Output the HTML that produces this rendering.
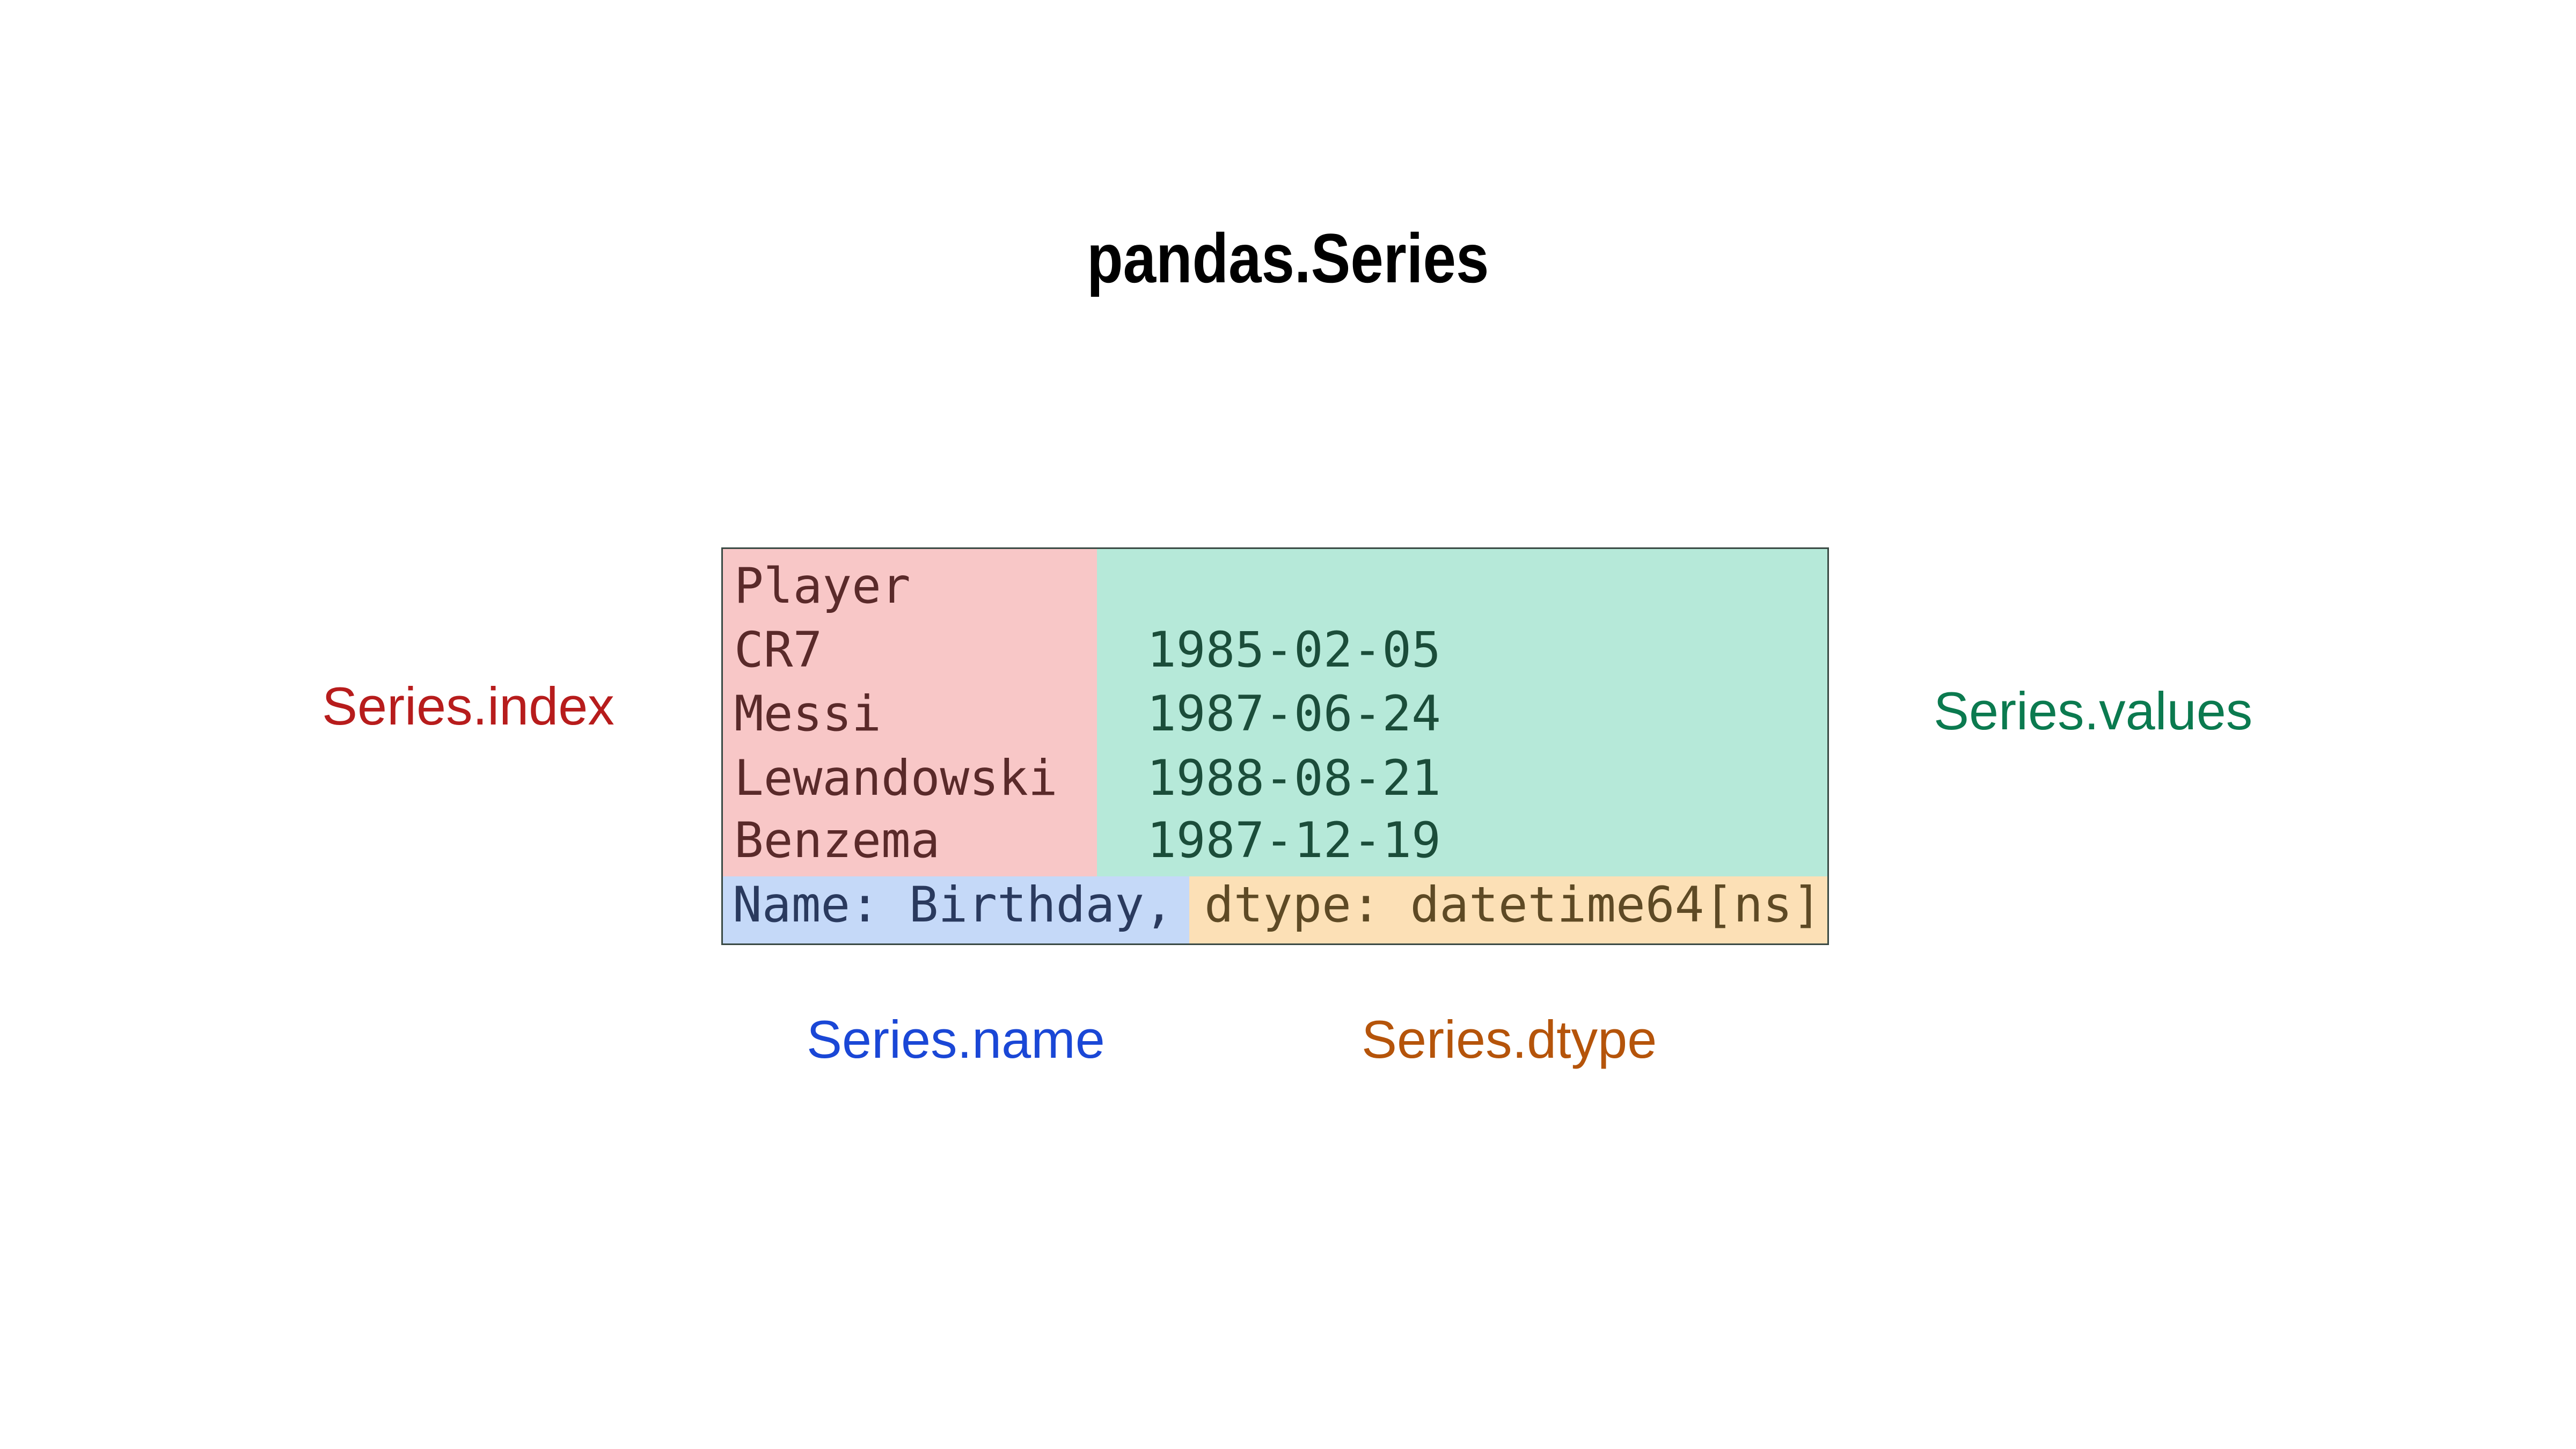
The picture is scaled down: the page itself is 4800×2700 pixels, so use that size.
<!DOCTYPE html>
<html><head><meta charset="utf-8"><style>
html,body{margin:0;padding:0;background:#fff;}
body{width:4800px;height:2700px;position:relative;overflow:hidden;font-family:"Liberation Sans",sans-serif;}
.a{position:absolute;white-space:nowrap;}
.m{font-family:"DejaVu Sans Mono","Liberation Mono",monospace;font-size:91px;line-height:120px;height:120px;}
.l{font-size:99px;line-height:120px;height:120px;}
</style></head><body>
<div class="a" style="left:0;width:4800px;top:406px;text-align:center;font-weight:bold;font-size:130px;line-height:150px;"><span style="display:inline-block;transform:scaleX(0.85);">pandas.Series</span></div>

<div class="a" style="left:1344px;top:1020px;width:2064px;height:741px;border:3px solid #3a4a44;box-sizing:border-box;overflow:hidden;">
  <div class="a" style="left:0;top:0;width:697px;height:610px;background:#f8c7c7;"></div>
  <div class="a" style="left:697px;top:0;width:1370px;height:610px;background:#b6e9d9;"></div>
  <div class="a" style="left:0;top:610px;width:869px;height:140px;background:#c5d9f8;"></div>
  <div class="a" style="left:869px;top:610px;width:1200px;height:140px;background:#fce0b6;"></div>
</div>

<div class="a m" style="left:1368px;top:1033px;color:#5a2a2a;">Player</div>
<div class="a m" style="left:1368px;top:1152px;color:#5a2a2a;">CR7</div>
<div class="a m" style="left:1368px;top:1271px;color:#5a2a2a;">Messi</div>
<div class="a m" style="left:1368px;top:1391px;color:#5a2a2a;">Lewandowski</div>
<div class="a m" style="left:1368px;top:1507px;color:#5a2a2a;">Benzema</div>

<div class="a m" style="left:2137px;top:1152px;color:#1b4d3a;">1985-02-05</div>
<div class="a m" style="left:2137px;top:1271px;color:#1b4d3a;">1987-06-24</div>
<div class="a m" style="left:2137px;top:1391px;color:#1b4d3a;">1988-08-21</div>
<div class="a m" style="left:2137px;top:1507px;color:#1b4d3a;">1987-12-19</div>

<div class="a m" style="left:1365px;top:1627px;color:#2a3a5e;">Name: Birthday,</div>
<div class="a m" style="left:2244px;top:1627px;color:#5e4a25;">dtype: datetime64[ns]</div>

<div class="a l" style="left:600px;top:1256px;color:#b71c1c;">Series.index</div>
<div class="a l" style="left:3603px;top:1265px;color:#0b7a4f;">Series.values</div>
<div class="a l" style="left:1503px;top:1877px;color:#1a47d6;">Series.name</div>
<div class="a l" style="left:2537px;top:1877px;color:#b5540a;">Series.dtype</div>
</body></html>
